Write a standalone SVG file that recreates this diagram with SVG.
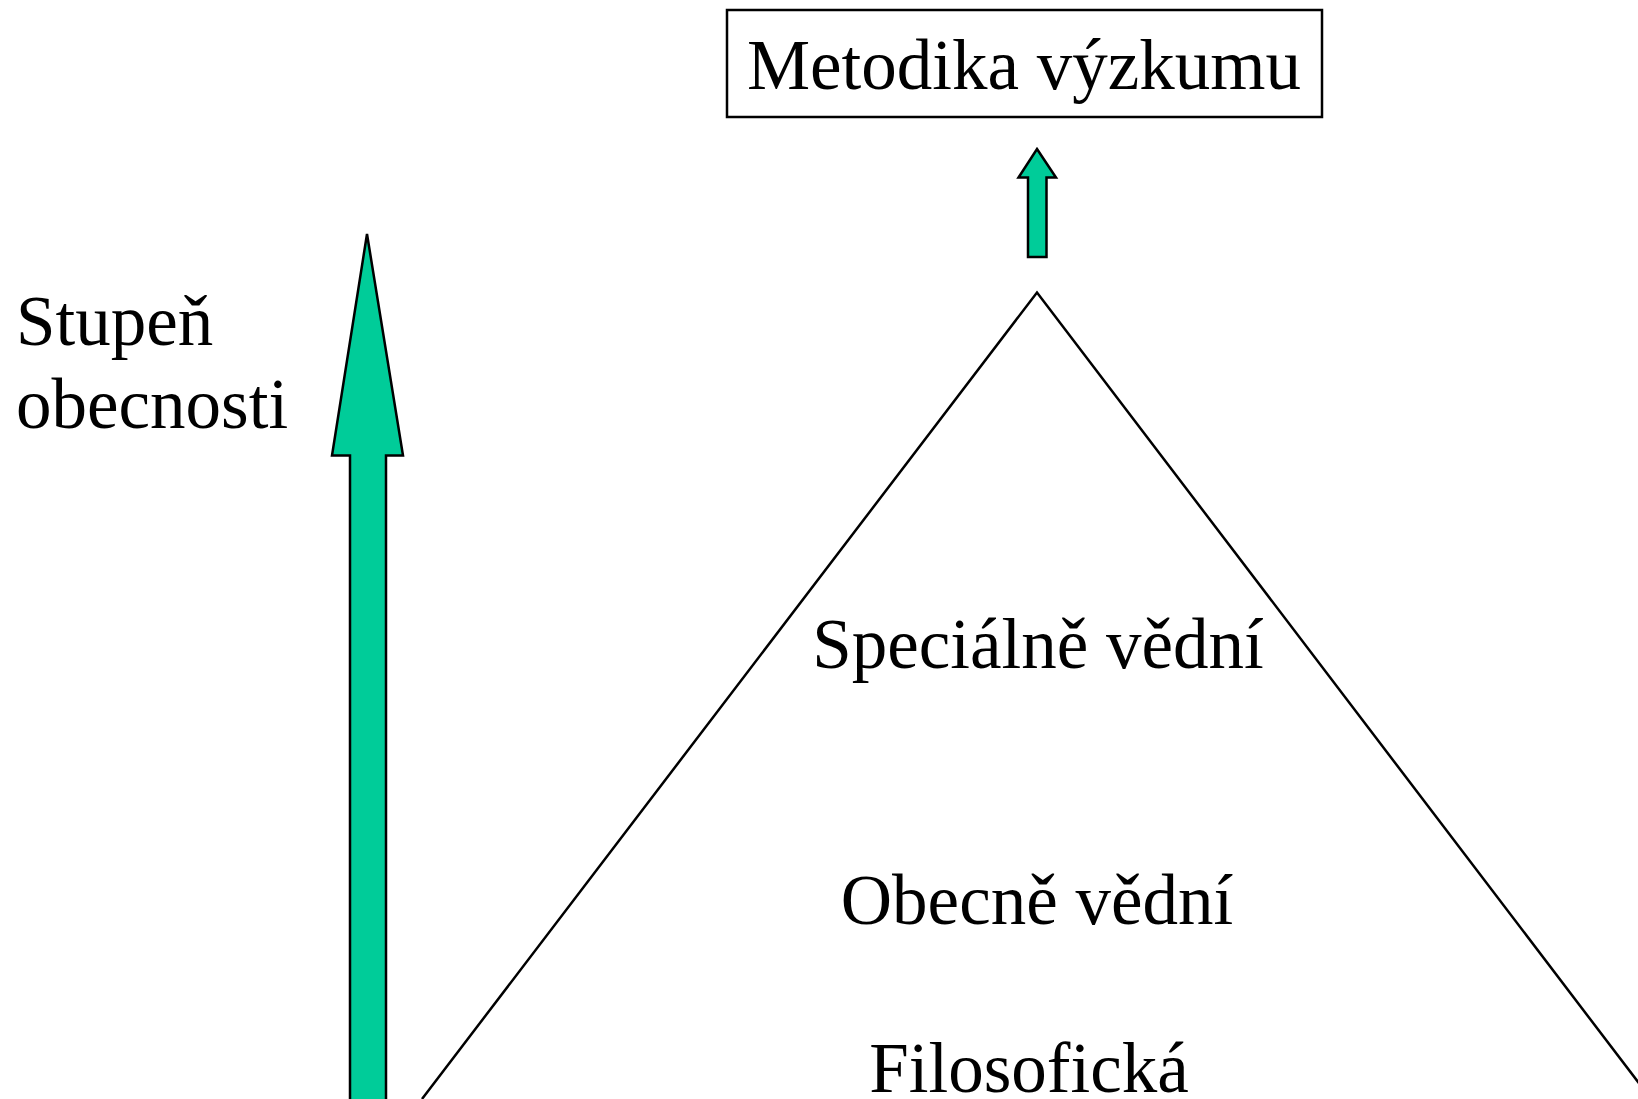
<svg xmlns="http://www.w3.org/2000/svg" width="1638" height="1099" viewBox="0 0 1638 1099">
<style>
text{font-family:"Liberation Serif","Times New Roman",serif;font-size:71px;fill:#000}
.arrow{fill:#00CC99;stroke:#000;stroke-width:2.5;stroke-linejoin:miter}
.line{fill:none;stroke:#000;stroke-width:2.5}
</style>
<rect width="1638" height="1099" fill="#fff"/>
<g id="metodika">
<rect x="727" y="10" width="595" height="107" fill="#fff" stroke="#000" stroke-width="2.5"/>
<text x="1024" y="89" text-anchor="middle">Metodika výzkumu</text>
</g>
<g id="stupen">
<text x="16" y="345">Stupeň</text>
<text x="16" y="428">obecnosti</text>
</g>
<g id="pyramid">
<polyline class="line" points="422,1099 1037,292.5 1651,1099"/>
<text x="1038" y="668" text-anchor="middle">Speciálně vědní</text>
<text x="1037" y="924" text-anchor="middle">Obecně vědní</text>
<text x="1029" y="1092" text-anchor="middle">Filosofická</text>
</g>
<g id="connectors">
<polygon class="arrow" points="1037,149 1056,177.5 1046.5,177.5 1046.5,257 1028,257 1028,177.5 1018.5,177.5"/>
<polygon class="arrow" points="367,234 403,455.5 386,455.5 386,1110 350,1110 350,455.5 332,455.5"/>
</g>
</svg>
